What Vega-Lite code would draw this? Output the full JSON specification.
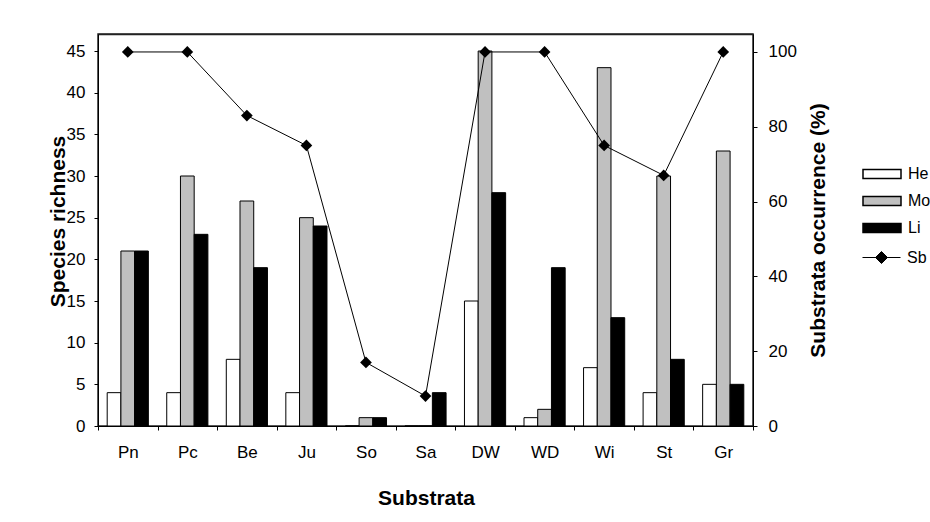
{
  "$schema": "https://vega.github.io/schema/vega-lite/v6.json",
  "width": 655,
  "height": 392,
  "autosize": {"type": "none"},
  "padding": {"left": 98, "top": 34, "right": 177, "bottom": 96},
  "background": "white",
  "config": {
    "font": "Liberation Sans",
    "view": {"stroke": "#222222", "strokeWidth": 1.5},
    "axis": {
      "domainColor": "black", "tickColor": "black", "labelColor": "black", "titleColor": "black",
      "labelFont": "Liberation Sans", "titleFont": "Liberation Sans",
      "labelFontSize": 17, "titleFontSize": 21, "titleFontWeight": "bold",
      "tickSize": 4, "grid": false
    },
    "legend": {"labelFont": "Liberation Sans", "labelFontSize": 16, "labelColor": "black"}
  },
  "datasets": {
    "rich": [
      {"substrate": "Pn", "group": "He", "richness": 4},
      {"substrate": "Pn", "group": "Mo", "richness": 21},
      {"substrate": "Pn", "group": "Li", "richness": 21},
      {"substrate": "Pc", "group": "He", "richness": 4},
      {"substrate": "Pc", "group": "Mo", "richness": 30},
      {"substrate": "Pc", "group": "Li", "richness": 23},
      {"substrate": "Be", "group": "He", "richness": 8},
      {"substrate": "Be", "group": "Mo", "richness": 27},
      {"substrate": "Be", "group": "Li", "richness": 19},
      {"substrate": "Ju", "group": "He", "richness": 4},
      {"substrate": "Ju", "group": "Mo", "richness": 25},
      {"substrate": "Ju", "group": "Li", "richness": 24},
      {"substrate": "So", "group": "He", "richness": 0},
      {"substrate": "So", "group": "Mo", "richness": 1},
      {"substrate": "So", "group": "Li", "richness": 1},
      {"substrate": "Sa", "group": "He", "richness": 0},
      {"substrate": "Sa", "group": "Mo", "richness": 0},
      {"substrate": "Sa", "group": "Li", "richness": 4},
      {"substrate": "DW", "group": "He", "richness": 15},
      {"substrate": "DW", "group": "Mo", "richness": 45},
      {"substrate": "DW", "group": "Li", "richness": 28},
      {"substrate": "WD", "group": "He", "richness": 1},
      {"substrate": "WD", "group": "Mo", "richness": 2},
      {"substrate": "WD", "group": "Li", "richness": 19},
      {"substrate": "Wi", "group": "He", "richness": 7},
      {"substrate": "Wi", "group": "Mo", "richness": 43},
      {"substrate": "Wi", "group": "Li", "richness": 13},
      {"substrate": "St", "group": "He", "richness": 4},
      {"substrate": "St", "group": "Mo", "richness": 30},
      {"substrate": "St", "group": "Li", "richness": 8},
      {"substrate": "Gr", "group": "He", "richness": 5},
      {"substrate": "Gr", "group": "Mo", "richness": 33},
      {"substrate": "Gr", "group": "Li", "richness": 5}
    ],
    "occ": [
      {"substrate": "Pn", "series": "Sb", "occurrence": 100},
      {"substrate": "Pc", "series": "Sb", "occurrence": 100},
      {"substrate": "Be", "series": "Sb", "occurrence": 83},
      {"substrate": "Ju", "series": "Sb", "occurrence": 75},
      {"substrate": "So", "series": "Sb", "occurrence": 17},
      {"substrate": "Sa", "series": "Sb", "occurrence": 8},
      {"substrate": "DW", "series": "Sb", "occurrence": 100},
      {"substrate": "WD", "series": "Sb", "occurrence": 100},
      {"substrate": "Wi", "series": "Sb", "occurrence": 75},
      {"substrate": "St", "series": "Sb", "occurrence": 67},
      {"substrate": "Gr", "series": "Sb", "occurrence": 100}
    ]
  },
  "layer": [
    {
      "data": {"name": "rich"},
      "mark": {"type": "bar", "stroke": "black", "strokeWidth": 1},
      "encoding": {
        "x": {
          "field": "substrate", "type": "nominal",
          "sort": ["Pn", "Pc", "Be", "Ju", "So", "Sa", "DW", "WD", "Wi", "St", "Gr"],
          "scale": {"paddingInner": 0, "paddingOuter": 0},
          "axis": {
            "title": "Substrata", "labelAngle": 0, "tickBand": "extent",
            "labelBaseline": "middle", "labelPadding": 22,
            "titleBaseline": "middle", "titleY": 72, "titleX": 328, "titleAlign": "center"
          }
        },
        "xOffset": {
          "field": "group", "type": "nominal", "sort": ["He", "Mo", "Li"],
          "scale": {"paddingInner": 0, "paddingOuter": 0.67}
        },
        "y": {
          "field": "richness", "type": "quantitative",
          "scale": {"domain": [0, 47.04], "nice": false},
          "axis": {
            "title": "Species richness", "values": [0, 5, 10, 15, 20, 25, 30, 35, 40, 45],
            "labelPadding": 9, "titleAngle": 270, "titleX": -40, "titleY": 187,
            "titleAlign": "center", "titleBaseline": "middle"
          }
        },
        "fill": {
          "field": "group", "type": "nominal", "sort": ["He", "Mo", "Li"],
          "scale": {"domain": ["He", "Mo", "Li"], "range": ["white", "#c0c0c0", "black"]},
          "legend": {
            "orient": "none", "legendX": 773, "legendY": 129, "title": null,
            "symbolType": "M-1.9,-0.45H1.9V0.45H-1.9Z", "symbolSize": 400,
            "labelOffset": 15, "rowPadding": 8, "padding": 0, "labelFontSize": 16,
            "encode": {"symbols": {"update": {"stroke": {"value": "black"}, "strokeWidth": {"value": 1}}}}
          }
        }
      }
    },
    {
      "data": {"name": "occ"},
      "encoding": {
        "x": {
          "field": "substrate", "type": "nominal",
          "sort": ["Pn", "Pc", "Be", "Ju", "So", "Sa", "DW", "WD", "Wi", "St", "Gr"],
          "axis": {"orient": "top", "labels": false, "ticks": false, "title": null, "domain": true, "domainColor": "#222222", "domainWidth": 1.5}
        },
        "y": {
          "field": "occurrence", "type": "quantitative",
          "scale": {"domain": [0, 104.8], "nice": false},
          "axis": {
            "orient": "right", "title": "Substrata occurrence (%)",
            "values": [0, 20, 40, 60, 80, 100], "labelPadding": 11,
            "titleAngle": 270, "titleX": 65, "titleY": 196,
            "titleAlign": "center", "titleBaseline": "middle"
          }
        }
      },
      "layer": [
        {
          "mark": {"type": "line", "strokeWidth": 1},
          "encoding": {
            "stroke": {
              "field": "series", "type": "nominal",
              "scale": {"domain": ["Sb"], "range": ["black"]},
              "legend": {
                "orient": "none", "legendX": 773, "legendY": 213, "title": null,
                "symbolType": "M-1.9,0H1.9M0,-0.6L0.6,0L0,0.6L-0.6,0Z", "symbolSize": 400,
                "labelOffset": 15, "padding": 0, "labelFontSize": 16,
                "encode": {"symbols": {"update": {"fill": {"value": "black"}, "stroke": {"value": "black"}, "strokeWidth": {"value": 1}}}}
              }
            }
          }
        },
        {
          "mark": {"type": "point", "shape": "diamond", "filled": true, "color": "black", "size": 137, "opacity": 1}
        }
      ]
    }
  ],
  "resolve": {"scale": {"y": "independent"}, "axis": {"x": "independent"}}
}
